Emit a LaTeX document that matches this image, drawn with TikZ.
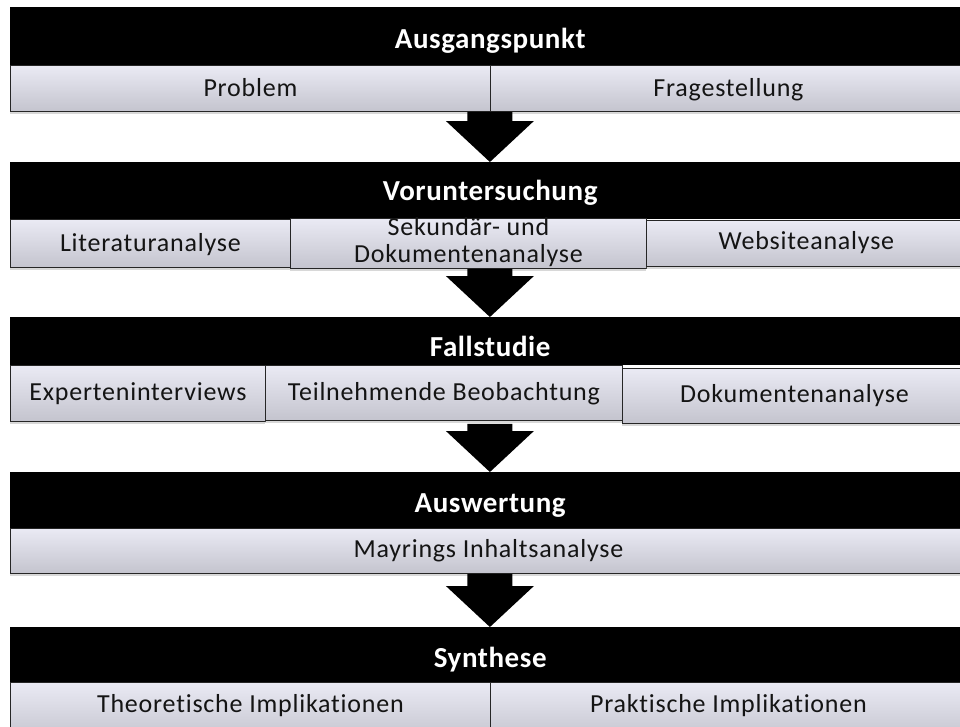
\documentclass[tikz,border=0pt]{standalone}
\usepackage{fontspec}
\setmainfont{Carlito}
\newfontfamily\stagefont[LetterSpace=2]{Carlito}
\newfontfamily\itemfont[LetterSpace=3,Ligatures=NoCommon]{Carlito}
\usetikzlibrary{calc,shadows}
\definecolor{barTop}{RGB}{234,234,244}
\definecolor{barBottom}{RGB}{196,196,206}
\definecolor{itemText}{RGB}{20,20,20}
\begin{document}
\begin{tikzpicture}[x=1pt,y=-1pt,
  stagehead/.style={anchor=north west, fill=black, text=white, inner sep=0pt,
    minimum width=960pt, font=\stagefont\bfseries\fontsize{29}{32}\selectfont},
  itembox/.style={anchor=north west, draw=black!85, line width=0.9pt,
    top color=barTop, bottom color=barBottom, text=itemText, inner sep=0pt,
    align=center, font=\itemfont\fontsize{26}{27}\selectfont,
    drop shadow={shadow xshift=0pt, shadow yshift=-3pt, opacity=0.3}},
  blockarrow/.style={to path={let \p1=(\tikztostart), \p2=(\tikztotarget) in
    (\x1-22.5pt,\y1) -- (\x1+22.5pt,\y1) -- (\x1+22.5pt,\y2+41pt)
    -- (\x1+44pt,\y2+41pt) -- (\x1,\y2) -- (\x1-44pt,\y2+41pt)
    -- (\x1-22.5pt,\y2+41pt) -- cycle}}
]
\useasboundingbox (0,0) rectangle (960,726);
\fill[white] (0,0) rectangle (960,726);

% Stage 1
\node[stagehead, text height=41pt, text depth=17pt] (h1) at (10,7) {Ausgangspunkt};
\node[itembox, minimum width=480pt, text height=31pt, text depth=15pt] (i11) at (10,65) {Problem};
\node[itembox, minimum width=476pt, text height=31pt, text depth=15pt] (i12) at (490,65) {Fragestellung};
\coordinate (c1) at ($(i11.south east)+(-1,0)$);

% Stage 2 (the two-line box takes its baseline from the last line)
\node[stagehead, text height=38pt, text depth=19pt] (h2) at (10,162) {Voruntersuchung};
\node[itembox, minimum width=280pt, text height=32pt, text depth=16pt] (i21) at (10,219) {Literaturanalyse};
\node[itembox, minimum width=356pt, text height=44pt, text depth=6pt] (i22) at (290,218) {Sekundär- und\\Dokumentenanalyse};
\node[itembox, minimum width=320pt, text height=29pt, text depth=17pt] (i23) at (646,220) {Websiteanalyse};
\coordinate (c2) at (i22.south -| c1);

% Stage 3
\node[stagehead, text height=39pt, text depth=9pt] (h3) at (10,317) {Fallstudie};
\node[itembox, minimum width=255pt, text height=35pt, text depth=21pt] (i31) at (10,365) {Experteninterviews};
\node[itembox, minimum width=357pt, text height=35pt, text depth=20pt] (i32) at (265,365) {Teilnehmende Beobachtung};
\node[itembox, minimum width=344pt, text height=34pt, text depth=21pt] (i33) at (622,368) {Dokumentenanalyse};
\coordinate (c3) at (i33.south -| c1);

% Stage 4
\node[stagehead, text height=40pt, text depth=16pt] (h4) at (10,472) {Auswertung};
\node[itembox, minimum width=956pt, text height=29pt, text depth=16pt] (i41) at (10,528) {Mayrings Inhaltsanalyse};
\coordinate (c4) at (i41.south -| c1);

% Stage 5
\node[stagehead, text height=40pt, text depth=15pt] (h5) at (10,627) {Synthese};
\node[itembox, minimum width=480pt, text height=30pt, text depth=28pt] (i51) at (10,682) {Theoretische Implikationen};
\node[itembox, minimum width=476pt, text height=30pt, text depth=28pt] (i52) at (490,682) {Praktische Implikationen};

% Block arrows between the stages
\fill[black] (c1) to[blockarrow] (c1 |- h2.north);
\fill[black] (c2) to[blockarrow] (c2 |- h3.north);
\fill[black] (c3) to[blockarrow] (c3 |- h4.north);
\fill[black] (c4) to[blockarrow] (c4 |- h5.north);
\end{tikzpicture}
\end{document}
